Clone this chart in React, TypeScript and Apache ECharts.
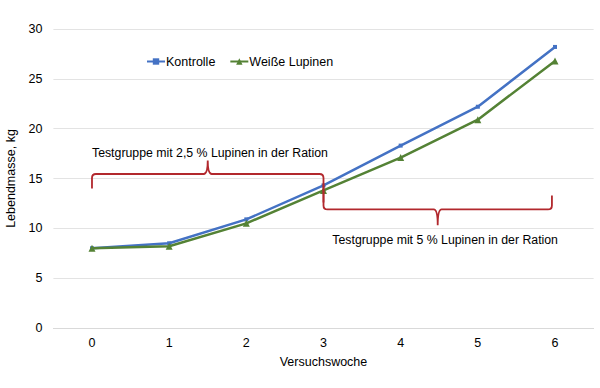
import React, { useEffect, useRef } from "react";
import * as echarts from "echarts";

const weeks = ["0", "1", "2", "3", "4", "5", "6"];
const kontrolle = [8.0, 8.5, 10.9, 14.3, 18.3, 22.2, 28.2];
const lupinen = [8.0, 8.2, 10.5, 13.8, 17.1, 20.9, 26.8];
const seriesNames = ["Kontrolle", "Weiße Lupinen"];
// braces: [xStart, xEnd, yEndLeft, yEndRight, yLine, yTip, labelX, labelY]
const braceGeom = [
  [0, 3, 14.0, 12.6, 15.45, 16.8, 0, 17.6],
  [3, 5.96, 14.5, 13.3, 11.9, 10.3, 3.115, 8.8],
];
const braceLabels = [
  "Testgruppe mit 2,5 % Lupinen in der Ration",
  "Testgruppe mit 5 % Lupinen in der Ration",
];

const FONT = "'Liberation Sans', Arial, sans-serif";

export default function App() {
  const ref = useRef<HTMLDivElement>(null);
  useEffect(() => {
    const chart = echarts.init(ref.current!, null, { renderer: "svg" });
    const braceData = braceGeom.map((g, i) => [...g, i]);
    chart.setOption({
      animation: false,
      textStyle: { fontFamily: FONT },
      grid: { left: 53.4, right: 6.4, top: 29, bottom: 60, containLabel: false, outerBoundsMode: "none" },
      legend: {
        data: seriesNames,
        left: 141,
        top: 50,
        itemWidth: 18,
        itemHeight: 8,
        itemGap: 14,
        textStyle: { fontSize: 12.5, color: "#000", fontFamily: FONT, padding: [0, 0, 0, -4] },
      },
      xAxis: {
        type: "category",
        data: weeks,
        name: "Versuchswoche",
        nameLocation: "middle",
        nameGap: 27,
        nameTextStyle: { fontSize: 12.5, color: "#000", fontFamily: FONT },
        axisLine: { lineStyle: { color: "#d9d9d9" } },
        axisTick: { show: false },
        axisLabel: { fontSize: 12.5, color: "#000", margin: 8, fontFamily: FONT },
      },
      yAxis: {
        type: "value",
        min: 0,
        max: 30,
        interval: 5,
        name: "Lebendmasse, kg",
        nameLocation: "middle",
        nameGap: 36,
        nameTextStyle: { fontSize: 12.5, color: "#000", fontFamily: FONT },
        axisLabel: { fontSize: 12.5, color: "#000", margin: 11, fontFamily: FONT },
        splitLine: { lineStyle: { color: "#e3e3e3" } },
      },
      series: [
        {
          name: seriesNames[0],
          type: "line",
          data: kontrolle,
          symbol: "rect",
          symbolSize: 4,
          lineStyle: { color: "#4472C4", width: 2.5 },
          itemStyle: { color: "#4472C4" },
          z: 3,
        },
        {
          name: seriesNames[1],
          type: "line",
          data: lupinen,
          symbol: "triangle",
          symbolSize: 7,
          lineStyle: { color: "#548235", width: 2.5 },
          itemStyle: { color: "#548235" },
          z: 4,
        },
        {
          type: "custom",
          data: braceData,
          silent: true,
          z: 5,
          renderItem: (params: any, api: any) => {
            const px = (v: number) => {
              const f = Math.floor(v);
              const a = api.coord([f, 0])[0];
              const b = api.coord([f + 1, 0])[0];
              return a + (v - f) * (b - a);
            };
            const py = (v: number) => api.coord([0, v])[1];
            const x0 = api.value(0), x1 = api.value(1);
            const ax = px(x0), bx = px(x1), xm = (ax + bx) / 2;
            const yEL = py(api.value(2)), yER = py(api.value(3));
            const yL = py(api.value(4)), yTp = py(api.value(5));
            const lx = px(api.value(6)), ly = py(api.value(7));
            const idx = api.value(8);
            const dL = yEL > yL ? 1 : -1;
            const dR = yER > yL ? 1 : -1;
            const r = 4;
            const d =
              `M${ax},${yEL} L${ax},${yL + dL * r} Q${ax},${yL} ${ax + r},${yL} ` +
              `L${xm - r},${yL} Q${xm},${yL} ${xm},${yTp} Q${xm},${yL} ${xm + r},${yL} ` +
              `L${bx - r},${yL} Q${bx},${yL} ${bx},${yL + dR * r} L${bx},${yER}`;
            return {
              type: "group",
              children: [
                {
                  type: "path",
                  shape: { pathData: d },
                  style: { fill: "none", stroke: "#B2282D", lineWidth: 1.8 },
                },
                {
                  type: "text",
                  x: lx,
                  y: ly,
                  style: {
                    text: braceLabels[idx],
                    fontSize: 12.3,
                    fontFamily: FONT,
                    fill: "#000",
                    align: "left",
                    verticalAlign: "middle",
                  },
                },
              ],
            };
          },
        },
      ],
    });
    return () => chart.dispose();
  }, []);
  return (
    <div
      ref={ref}
      style={{ position: "absolute", left: 0, top: 0, width: 600, height: 388 }}
    />
  );
}
